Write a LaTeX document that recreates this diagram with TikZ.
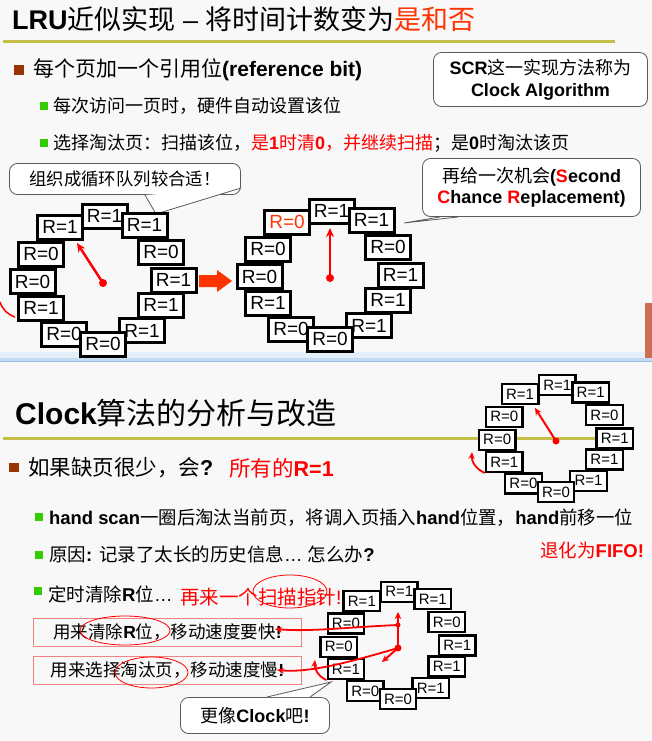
\documentclass[tikz,border=0pt]{standalone}
\usepackage{fontspec}
\setmainfont{Liberation Sans}
\newfontfamily\zhfam{Noto Sans CJK SC}
\usetikzlibrary{arrows.meta,calc}

% Chinese characters switch to the CJK face by themselves
\XeTeXinterchartokenstate=1
\newXeTeXintercharclass\zhclass
\def\zhrange#1#2{\count255=#1\relax
  \loop\XeTeXcharclass\count255=\zhclass\relax
    \ifnum\count255<#2\relax\advance\count255 by 1\relax\repeat}
\zhrange{"3000}{"303F}
\zhrange{"4E00}{"9FFF}
\zhrange{"FF00}{"FFEF}
\XeTeXinterchartoks 0 \zhclass = {\zhfam\mdseries}
\XeTeXinterchartoks 4095 \zhclass = {\zhfam\mdseries}
\XeTeXinterchartoks \zhclass 0 = {\rmfamily}
\XeTeXinterchartoks \zhclass 4095 = {\rmfamily}

\definecolor{slidebg}{RGB}{248,248,248}
\definecolor{titleline}{RGB}{196,191,72}
\definecolor{bulletbrown}{RGB}{153,51,0}
\definecolor{bulletgreen}{RGB}{51,204,0}
\definecolor{titlered}{RGB}{255,51,0}
\definecolor{hotred}{RGB}{255,0,0}
\definecolor{callgrey}{RGB}{90,90,90}
\definecolor{boxpink}{RGB}{240,130,130}
\definecolor{bandblue}{RGB}{150,190,235}
\definecolor{photo}{RGB}{205,110,80}

\newcommand\sz[1]{\fontsize{#1}{\fpeval{1.2*(#1)}}\selectfont}
\def\clockface#1#2#3#4{%
  \foreach \dx/\dy/\lab [count=\i] in {1.5/-67/R=1,-43/-56/#4,41.5/-58/R=1,
      -62/-29/R=0,58/-31/R=0,-70.5/-1.5/R=0,70.5/-3/R=1,-62/25/R=1,
      58/22/R=1,-39/51/R=0,39/47.5/R=1,0/61/R=0}
    \node[#3] (#1-\i) at ($(#1)+(#2*\dx,#2*\dy)$) {\lab};}
\def\calloutTail#1#2#3{%
  \fill[white] #1 -- #2 -- #3 -- cycle;
  \draw[callgrey,line width=0.8pt] #1 -- #2 -- #3;}

\begin{document}
\begin{tikzpicture}[x=1pt,y=-1pt,
  clockbox/.style={draw=black,line width=3pt,fill=white,inner sep=0pt,
    minimum width=45pt,minimum height=24pt,font=\sz{19}},
  miniclockbox/.style={clockbox,line width=2.3pt,minimum width=36.5pt,
    minimum height=20pt,font=\sz{15}},
  hand/.style={hotred,line width=2.5pt,-{Stealth[length=9pt,width=8pt]}},
  minihand/.style={hotred,line width=2pt,-{Stealth[length=7pt,width=6.5pt]}},
  pointer/.style={hotred,line width=1.8pt,-{Stealth[length=7pt,width=6pt]}},
  note/.style={draw=callgrey,line width=0.8pt,fill=white,rounded corners=8pt,
    inner sep=0pt,align=center},
  pinkbox/.style={draw=boxpink,line width=0.8pt,inner sep=0pt,
    minimum width=268pt,minimum height=28pt,font=\sz{17.5}},
  ring/.style={hotred,line width=0.8pt},
  brownsq/.style={fill=bulletbrown,inner sep=0pt,minimum size=9.5pt},
  greensq/.style={fill=bulletgreen,inner sep=0pt,minimum size=8pt},
  txt/.style={anchor=west,inner sep=0pt},
  rule/.style={titleline,line width=3pt}]
\useasboundingbox (0,0) rectangle (652,741);

%%%%% BACKGROUND %%%%%
\fill[slidebg] (0,0) rectangle (652,741);
\fill[bandblue!25] (0,352) rectangle (652,358);
\fill[bandblue!55] (0,358) rectangle (652,361);
\draw[bandblue,line width=1.2pt] (0,361.5) -- (652,361.5);
\fill[photo] (645,303) rectangle (652,358);

%%%%% SLIDE 1 %%%%%
\node[txt,font=\sz{27}] (title1) at (12,19) {{\bfseries LRU}近似实现 – 将时间计数变为\textcolor{titlered}{是和否}};
\draw[rule] (3,42) -- (615,42);

\node[brownsq] (b1) at (19,70) {};
\node[txt,font=\sz{21}] (b1-text) at (33,70) {每个页加一个引用位{\bfseries (reference bit)}};
\node[greensq] (s1) at (44,106.5) {};
\node[txt,font=\sz{18}] (s1-text) at (53,106) {每次访问一页时，硬件自动设置该位};
\node[greensq] (s2) at (44,143) {};
\node[txt,font=\sz{18}] (s2-text) at (53,143) {选择淘汰页：扫描该位，\textcolor{hotred}{是{\bfseries 1}时清{\bfseries 0}，并继续扫描}；是{\bfseries 0}时淘汰该页};

\node[note,minimum width=214pt,minimum height=54pt,font=\sz{18}] (scr) at (540.5,79.5) {{\bfseries SCR}这一实现方法称为\\{\bfseries Clock Algorithm}};

\node[note,minimum width=231pt,minimum height=31pt,font=\sz{17.4}] (queue-note) at (125,179) {组织成循环队列较合适！};
\calloutTail{(145,195)}{(156,214)}{(241,188)}
\node[note,minimum width=218pt,minimum height=58pt,font=\sz{18}] (second-note) at (531.5,187.5) {再给一次机会{\bfseries (\textcolor{hotred}{S}econd}\\{\bfseries \textcolor{hotred}{C}hance \textcolor{hotred}{R}eplacement)}};
\calloutTail{(440,217)}{(404,223)}{(458,217)}

% left clock
\coordinate (c1) at (103,283);
\clockface{c1}{1}{clockbox}{R=1}
\coordinate (c1-tip) at (77,243);
\draw[hand] (c1) -- (c1-tip);
\fill[hotred] (c1) circle (4pt);

\fill[titlered] (199,275) -- (217,275) -- (217,270) -- (232,281) -- (217,292) -- (217,287) -- (199,287) -- cycle;

% clock after the pass
\coordinate (c2) at (330,278);
\clockface{c2}{1}{clockbox}{\textcolor{titlered}{R=0}}
\coordinate (c2-tip) at (330,228);
\draw[hand] (c2) -- (c2-tip);
\fill[hotred] (c2) circle (4pt);

\coordinate (edge-a) at (0,302);
\coordinate (edge-b) at (15,317);
\draw[hotred,line width=1.5pt] (edge-a) to[bend right=25] (edge-b);

%%%%% SLIDE 2 %%%%%
\node[txt,font=\sz{30}] (title2) at (15,413) {{\bfseries Clock}算法的分析与改造};
\draw[rule] (3,438) -- (632,438);

\coordinate (c3) at (556,441);
\clockface{c3}{0.835}{miniclockbox}{R=1}
\coordinate (c3-tip) at (535,408);
\draw[minihand] (c3) -- (c3-tip);
\fill[hotred] (c3) circle (3.5pt);
\coordinate (c3-back) at (472,452);
\draw[pointer] (c3-8.south west) to[bend left=35] (c3-back);

\node[brownsq] (b2) at (14,467.5) {};
\node[txt,font=\sz{21.5}] (b2-text) at (28,468) {如果缺页很少，会{\bfseries ?}};
\node[txt,font=\sz{21.5}] (b2-answer) at (229,468) {\textcolor{hotred}{所有的{\bfseries R=1}}};

\node[greensq] (s3) at (39,517) {};
\node[txt,font=\sz{18.4}] (s3-text) at (49,518) {{\bfseries hand scan}一圈后淘汰当前页，将调入页插入{\bfseries hand}位置，{\bfseries hand}前移一位};
\node[txt,font=\sz{18.5}] (fifo) at (540,550) {\textcolor{hotred}{退化为{\bfseries FIFO!}}};
\node[greensq] (s4) at (39,555) {};
\node[txt,font=\sz{18.5}] (s4-text) at (49,554) {原因{\bfseries :} 记录了太长的历史信息… 怎么办{\bfseries ?}};
\node[greensq] (s5) at (37.5,591) {};
\node[txt,font=\sz{18.5}] (s5-text) at (48,594) {定时清除{\bfseries R}位…};
\node[txt,font=\sz{19.5}] (s5-more) at (180,597) {\textcolor{hotred}{再来一个扫描指针!}};

\node[pinkbox] (fast) at (167.5,632.5) {用来清除{\bfseries R}位，移动速度要快{\bfseries !}};
\node[pinkbox] (slow) at (167.5,670) {用来选择淘汰页，移动速度慢{\bfseries !}};
\draw[ring] (290,591.5) ellipse (37 and 16.5);
\draw[ring] (125,630.5) ellipse (45 and 14.5);
\draw[ring] (151.5,672.5) ellipse (36.5 and 15.5);

\node[note,minimum width=149pt,minimum height=36pt,font=\sz{18}] (clock-note) at (255,715.5) {更像{\bfseries Clock}吧{\bfseries !}};
\calloutTail{(267,697)}{(331,682)}{(310,697)}

% two-hand clock
\coordinate (c4) at (398,648);
\clockface{c4}{0.84}{miniclockbox}{R=1}
\coordinate (c4-up) at (398,612);
\coordinate (c4-mid) at (398,625);
\coordinate (c4-low) at (382,662);
\coordinate (c4-back) at (315,660);
\coordinate (fast-tip) at (275,629);
\coordinate (slow-tip) at (277,670);
\draw[minihand] (c4) -- (c4-up);
\draw[minihand] (c4) -- (c4-low);
\fill[hotred] (c4) circle (3.5pt);
\fill[hotred] (c4-mid) circle (2.5pt);
\draw[pointer] (c4-mid) .. controls (350,627) and (310,632) .. (fast-tip);
\draw[pointer] (c4) .. controls (350,662) and (310,673) .. (slow-tip);
\draw[pointer] (c4-8.south west) to[bend left=35] (c4-back);
\end{tikzpicture}
\end{document}
